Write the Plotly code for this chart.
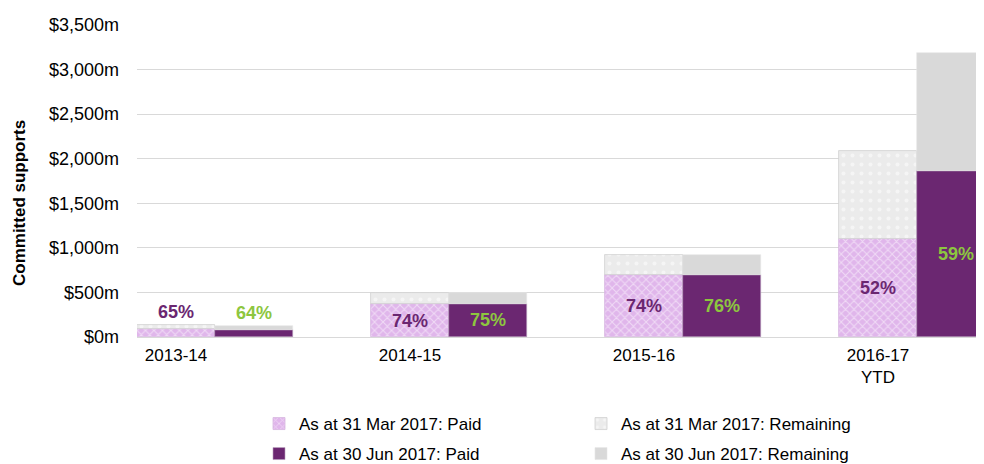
import plotly.graph_objects as go

categories = ["2013-14", "2014-15", "2015-16", "2016-17<br>YTD"]
mar_paid = [88, 366, 690, 1095]
mar_total = [136, 495, 920, 2088]
jun_paid = [80, 371, 700, 1864]
jun_total = [125, 495, 920, 3184]
mar_pct = ["65%", "74%", "74%", "52%"]
jun_pct = ["64%", "75%", "76%", "59%"]

mar_remaining = [t - p for t, p in zip(mar_total, mar_paid)]
jun_remaining = [t - p for t, p in zip(jun_total, jun_paid)]

W = 1 / 3
x_mar = [i for i in range(len(categories))]
x_jun = [i + W for i in range(len(categories))]

FONT = "Liberation Sans, Arial, sans-serif"
PURPLE = "#6B2771"
GREEN = "#8DC63F"

FIG_W, FIG_H = 976, 456
L, R, T, B = 129, 0, 17, 127

fig = go.Figure()
fig.add_trace(go.Bar(
    x=x_mar, y=mar_paid, width=W, offset=-W / 2, name="As at 31 Mar 2017: Paid",
    marker=dict(color="#E4BEEE", line=dict(color="#D7B6E0", width=0.8),
                pattern=dict(shape="x", bgcolor="#E0B6EB", fgcolor="#FFFFFF", size=6, solidity=0.3)),
    legend="legend"))
fig.add_trace(go.Bar(
    x=x_mar, y=mar_remaining, width=W, offset=-W / 2, name="As at 31 Mar 2017: Remaining",
    marker=dict(color="#EBEBEB", line=dict(color="#D0D0D0", width=0.8),
                pattern=dict(shape=".", bgcolor="#EBEBEB", fgcolor="#FFFFFF", size=9, solidity=0.15)),
    legend="legend"))
fig.add_trace(go.Bar(
    x=x_jun, y=jun_paid, width=W, offset=-W / 2, name="As at 30 Jun 2017: Paid",
    marker=dict(color=PURPLE, line=dict(color="#B9A0BE", width=0.6)),
    legend="legend2"))
fig.add_trace(go.Bar(
    x=x_jun, y=jun_remaining, width=W, offset=-W / 2, name="As at 30 Jun 2017: Remaining",
    marker=dict(color="#D9D9D9", line=dict(color="#E6E6E6", width=0.6)),
    legend="legend2"))

annotations = []
for xs, paid, total, pct, col in [(x_mar, mar_paid, mar_total, mar_pct, PURPLE),
                                   (x_jun, jun_paid, jun_total, jun_pct, GREEN)]:
    for x, p, t, s in zip(xs, paid, total, pct):
        if p < 200:
            annotations.append(dict(x=x, y=t, text=s, showarrow=False, yanchor="bottom", yshift=1,
                                    font=dict(family=FONT, size=18, color=col, weight="bold")))
        else:
            annotations.append(dict(x=x, y=p / 2, text=s, showarrow=False, yanchor="middle",
                                    font=dict(family=FONT, size=18, color=col, weight="bold")))

# y-axis title (placed as rotated text, slightly below the plot centre as in the reference)
annotations.append(dict(
    text="Committed supports", textangle=-90, showarrow=False,
    xref="paper", yref="paper",
    x=(11 - L) / (FIG_W - L - R), y=1 - (195 - T) / (FIG_H - T - B),
    xanchor="center", yanchor="middle",
    font=dict(family=FONT, size=17, color="#000000", weight="bold")))

plot_w = FIG_W - L - R
fig.update_layout(
    width=FIG_W, height=FIG_H,
    margin=dict(l=L, r=R, t=T, b=B),
    barmode="relative",
    bargap=0,
    plot_bgcolor="white",
    paper_bgcolor="white",
    font=dict(family=FONT, size=16, color="#000000"),
    annotations=annotations,
    showlegend=True,
    legend=dict(orientation="h", xref="container", yref="container", x=251 / FIG_W, y=1 - 416 / FIG_H,
                xanchor="left", yanchor="middle", entrywidth=277, traceorder="normal",
                font=dict(family=FONT, size=17, color="#000000"), bgcolor="rgba(0,0,0,0)"),
    legend2=dict(orientation="h", xref="container", yref="container", x=251 / FIG_W, y=1 - 446 / FIG_H,
                 xanchor="left", yanchor="middle", entrywidth=277, traceorder="normal",
                 font=dict(family=FONT, size=17, color="#000000"), bgcolor="rgba(0,0,0,0)"),
    xaxis=dict(
        range=[-W / 2, -W / 2 + plot_w / 234.0],
        tickmode="array", tickvals=x_mar, ticktext=categories,
        showgrid=False, zeroline=False, showline=False,
        ticks="", ticklabelstandoff=6,
        tickfont=dict(family=FONT, size=17, color="#000000"),
    ),
    yaxis=dict(
        range=[0, 3500], dtick=500, tick0=0,
        tickprefix="$", ticksuffix="m", tickformat=",d",
        showgrid=True, gridcolor="#D9D9D9", gridwidth=1,
        zeroline=True, zerolinecolor="#D9D9D9", zerolinewidth=1,
        showline=False, ticks="", ticklabelstandoff=17,
        tickfont=dict(family=FONT, size=18, color="#000000"),
    ),
)

fig.write_html("out.html")
